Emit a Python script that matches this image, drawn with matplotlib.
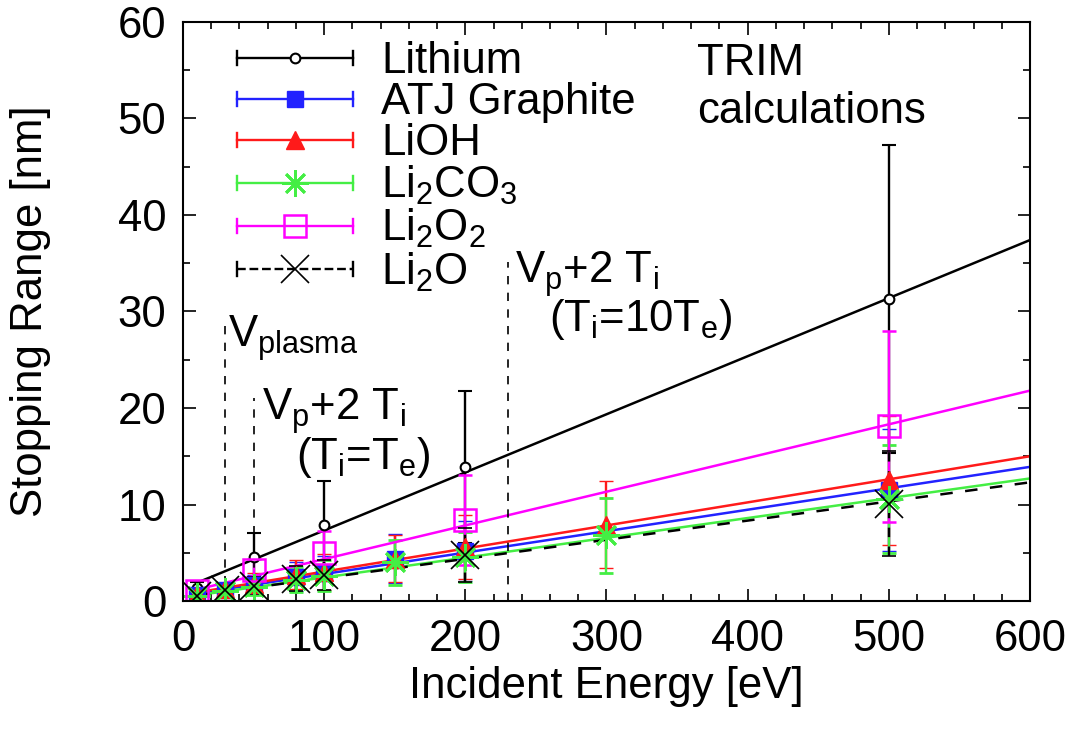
import numpy as np
import matplotlib
matplotlib.use('Agg')
import matplotlib.pyplot as plt
from matplotlib.lines import Line2D
from matplotlib.legend_handler import HandlerBase

# ==============================
# DATA
# ==============================
li_x = [10, 50, 100, 200, 500]
li_y = [1.3, 4.6, 7.9, 13.9, 31.3]
li_err = [0.7, 2.4, 4.5, 7.9, 16.0]

atj_x = [10, 30, 50, 80, 100, 150, 200, 500]
atj_y = [0.6, 1.1, 1.7, 2.5, 2.9, 4.4, 5.2, 11.5]
atj_err = [0.3, 0.7, 1.0, 1.5, 1.8, 2.5, 3.1, 6.3]

lioh_x = [10, 30, 50, 80, 100, 150, 200, 300, 500]
lioh_y = [0.7, 1.2, 1.8, 2.7, 3.0, 4.4, 5.6, 7.9, 12.5]
lioh_err = [0.4, 0.7, 1.1, 1.5, 1.9, 2.4, 3.3, 4.5, 6.7]

li2co3_x = [10, 30, 50, 80, 100, 150, 200, 300, 500]
li2co3_y = [0.5, 1.0, 1.5, 2.2, 2.6, 4.0, 4.6, 6.8, 10.6]
li2co3_err = [0.3, 0.6, 0.9, 1.3, 1.6, 2.3, 2.6, 3.9, 5.6]

li2o2_x = [10, 50, 100, 200, 500]
li2o2_y = [1.0, 3.2, 5.0, 8.4, 18.1]
li2o2_err = [0.4, 1.2, 2.3, 4.7, 9.9]

li2o_x = [10, 30, 50, 80, 100, 200, 500]
li2o_y = [0.5, 1.1, 1.6, 2.3, 2.7, 4.8, 10.1]
li2o_err = [0.3, 0.6, 0.9, 1.3, 1.6, 2.8, 5.4]

# linear fit lines: value at the two ends of fit_x
fit_x = [10, 600]
li_fit = [1.9, 37.4]
atj_fit = [0.8, 13.9]
lioh_fit = [0.9, 15.0]
li2co3_fit = [0.6, 12.7]
li2o2_fit = [1.2, 21.8]
li2o_fit = [0.6, 12.3]

# vertical markers: energy and height of the dashed line
vline_x = [30, 50, 230]
vline_top = [29.3, 21.0, 35.1]

# ==============================
# STYLE
# ==============================
plt.rcParams['font.family'] = ['Liberation Sans', 'DejaVu Sans']
plt.rcParams['mathtext.default'] = 'regular'
FS = 31.5

series = [
    ('Lithium', li_x, li_y, li_err, li_fit,
     dict(color='black', marker='o', ms=7, mfc='white', mew=1.5), '-'),
    ('ATJ Graphite', atj_x, atj_y, atj_err, atj_fit,
     dict(color='#2222ff', marker='s', ms=11, mfc='#2222ff', mew=1), '-'),
    ('LiOH', lioh_x, lioh_y, lioh_err, lioh_fit,
     dict(color='#ff1a1a', marker='^', ms=13, mfc='#ff1a1a', mew=1), '-'),
    ('Li$_2$CO$_3$', li2co3_x, li2co3_y, li2co3_err, li2co3_fit,
     dict(color='#44ee44', marker=(8, 2, 0), ms=19, mew=2.0), '-'),
    ('Li$_2$O$_2$', li2o2_x, li2o2_y, li2o2_err, li2o2_fit,
     dict(color='#ff00ff', marker='s', ms=16, mfc='none', mew=1.8), '-'),
    ('Li$_2$O', li2o_x, li2o_y, li2o_err, li2o_fit,
     dict(color='black', marker='x', ms=20, mew=1.2), '--'),
]


class HandlerErrorKey(HandlerBase):
    """gnuplot-like key: horizontal line with end caps and the point in the middle"""
    def create_artists(self, legend, orig_handle, xdescent, ydescent,
                       width, height, fontsize, trans):
        x0, x1 = -xdescent, width - xdescent
        yc = height / 2 - ydescent
        c = orig_handle.get_color()
        ls = orig_handle.get_linestyle()
        lw = orig_handle.get_linewidth()
        cap = 5
        line = Line2D([x0, x1], [yc, yc], color=c, ls=ls, lw=lw, transform=trans)
        cap_l = Line2D([x0, x0], [yc - cap, yc + cap], color=c, lw=lw, transform=trans)
        cap_r = Line2D([x1, x1], [yc - cap, yc + cap], color=c, lw=lw, transform=trans)
        mk = Line2D([(x0 + x1) / 2], [yc], ls='none', marker=orig_handle.get_marker(),
                    ms=orig_handle.get_markersize(), color=c,
                    mfc=orig_handle.get_markerfacecolor(),
                    mew=orig_handle.get_markeredgewidth(), transform=trans)
        return [line, cap_l, cap_r, mk]


fig = plt.figure(figsize=(10.74, 7.31), dpi=100)
ax = fig.add_axes([0.1704, 0.1778, 0.7886, 0.7922])

handles = []
for label, xs, ys, errs, fit, mstyle, ls in series:
    eb = ax.errorbar(xs, ys, yerr=errs, ls='none', capsize=5, elinewidth=1.7,
                     capthick=1.7, **mstyle)
    if ls == '--':
        eb[2][0].set_linestyle((0, (4, 4)))
    ax.plot(fit_x, fit, color=mstyle['color'], lw=1.8, ls=ls if ls == '-' else (0, (5, 5)))
    h = Line2D([], [], color=mstyle['color'], lw=1.7,
               ls='-' if ls == '-' else (0, (4, 4)),
               marker=mstyle['marker'], ms=mstyle['ms'],
               mfc=mstyle.get('mfc', mstyle['color']), mew=mstyle['mew'])
    handles.append((h, label))

# dashed markers for plasma potential etc.
for xv, top in zip(vline_x, vline_top):
    ax.plot([xv, xv], [0, top], color='black', lw=1.2, ls=(0, (5, 5)))

ax.text(32, 26.3, r'V$_{plasma}$', fontsize=FS)
ax.text(56, 18.8, r'V$_p$+2 T$_i$', fontsize=FS)
ax.text(80, 13.7, r'(T$_i$=T$_e$)', fontsize=FS)
ax.text(235, 33.0, r'V$_p$+2 T$_i$', fontsize=FS)
ax.text(259, 28.0, r'(T$_i$=10T$_e$)', fontsize=FS)
ax.text(364, 57.8, 'TRIM\ncalculations', fontsize=FS, va='top', linespacing=1.2)

# ==============================
# AXES
# ==============================
ax.set_xlim(0, 600)
ax.set_ylim(0, 60)
ax.set_xticks(np.arange(0, 601, 100))
ax.set_xticks(np.arange(0, 601, 20), minor=True)
ax.set_yticks(np.arange(0, 61, 10))
ax.set_yticks(np.arange(0, 61, 5), minor=True)
ax.tick_params(which='both', direction='in', top=True, right=True, width=1.2,
               labelsize=FS)
ax.tick_params(which='major', length=9)
ax.tick_params(axis='x', which='major', pad=13)
ax.tick_params(axis='y', which='major', pad=12)
ax.tick_params(which='minor', length=5)
for sp in ax.spines.values():
    sp.set_linewidth(1.5)

ax.set_xlabel('Incident Energy [eV]', fontsize=FS, labelpad=4)
ax.set_ylabel('Stopping Range [nm]', fontsize=FS, labelpad=48)

ax.legend([h for h, _ in handles], [l for _, l in handles],
          handler_map={Line2D: HandlerErrorKey()},
          loc='upper left', bbox_to_anchor=(0.028, 1.02), frameon=False,
          fontsize=FS, handlelength=2.65, handletextpad=0.64,
          labelspacing=0.0, borderpad=0.2)

fig.savefig('out.png', dpi=100)
